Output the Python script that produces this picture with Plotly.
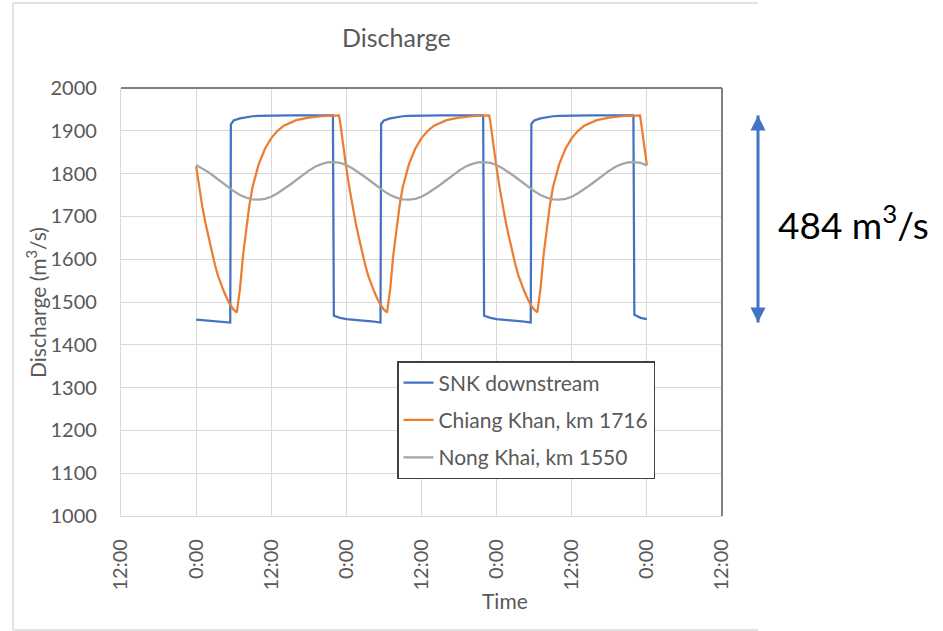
import plotly.graph_objects as go

# ---- data (hours from start of the run, discharge in m3/s) ----
snk_hours = [
    0, 1, 2, 3, 4, 5, 5.45,
    5.55, 6, 7, 8, 9, 10, 12, 15, 18, 21.85,
    22.0, 22.5, 23, 24, 25, 26, 27, 28, 29, 29.45,
    29.55, 30, 31, 32, 33, 34, 36, 39, 42, 45.85,
    46.0, 46.5, 47, 48, 49, 50, 51, 52, 53, 53.45,
    53.55, 54, 55, 56, 57, 58, 60, 63, 66, 69.85,
    70.0, 70.5, 71, 72,
]
snk_q = [
    1459, 1458, 1457, 1456, 1455, 1453, 1452,
    1915, 1924, 1929, 1932, 1934, 1935, 1936, 1936, 1936, 1936,
    1468, 1465, 1463, 1460, 1459, 1457, 1456, 1455, 1453, 1452,
    1916, 1924, 1929, 1932, 1934, 1935, 1936, 1936, 1936, 1936,
    1468, 1465, 1463, 1460, 1459, 1457, 1456, 1455, 1453, 1452,
    1916, 1924, 1929, 1932, 1934, 1935, 1936, 1936, 1936, 1936,
    1470, 1466, 1463, 1460,
]

chiang_khan_hours = [
    0, 0.5, 1, 1.5, 2, 2.5, 3, 3.5, 4, 4.5, 5, 5.5, 6, 6.5,
    7, 7.5, 8, 8.5, 9, 9.5, 10, 11, 12, 13, 14, 16, 18, 20, 22, 22.8,
    23.0, 23.5, 24, 24.5, 25, 25.5, 26, 26.5, 27, 27.5, 28, 28.5, 29, 29.5, 30, 30.5,
    31, 31.5, 32, 32.5, 33, 33.5, 34, 35, 36, 37, 38, 40, 42, 44, 46, 46.8,
    47.0, 47.5, 48, 48.5, 49, 49.5, 50, 50.5, 51, 51.5, 52, 52.5, 53, 53.5, 54, 54.5,
    55, 55.5, 56, 56.5, 57, 57.5, 58, 59, 60, 61, 62, 64, 66, 68, 70, 70.9,
    71.0, 71.5, 72,
]
chiang_khan_q = [
    1817, 1765, 1722, 1684, 1650, 1617, 1587, 1561, 1540, 1522, 1506, 1492, 1482, 1476,
    1530, 1610, 1668, 1725, 1768, 1798, 1822, 1858, 1883, 1900, 1912, 1925, 1931, 1934, 1936, 1936,
    1921, 1862, 1812, 1765, 1722, 1684, 1650, 1617, 1587, 1561, 1540, 1522, 1506, 1492, 1482, 1476,
    1530, 1610, 1668, 1725, 1768, 1798, 1822, 1858, 1883, 1900, 1912, 1925, 1931, 1934, 1936, 1936,
    1921, 1862, 1812, 1765, 1722, 1684, 1650, 1617, 1587, 1561, 1540, 1522, 1506, 1492, 1482, 1476,
    1530, 1610, 1668, 1725, 1768, 1798, 1822, 1858, 1883, 1900, 1912, 1925, 1931, 1934, 1936, 1936,
    1927, 1868, 1820,
]

nong_khai_hours = list(range(0, 73))
nong_khai_q = [
    1820, 1812, 1803, 1792, 1781, 1769, 1759, 1750, 1744, 1740, 1739, 1741,
    1746, 1754, 1763, 1774, 1785, 1797, 1807, 1816, 1822, 1826, 1827, 1825,
    1820, 1812, 1803, 1792, 1781, 1769, 1759, 1750, 1744, 1740, 1739, 1741,
    1746, 1754, 1763, 1774, 1785, 1797, 1807, 1816, 1822, 1826, 1827, 1825,
    1820, 1812, 1803, 1792, 1781, 1769, 1759, 1750, 1744, 1740, 1739, 1741,
    1746, 1754, 1763, 1774, 1785, 1797, 1807, 1816, 1822, 1826, 1827, 1825,
    1819,
]

tick_hours = [-12, 0, 12, 24, 36, 48, 60, 72, 84]
tick_labels = ["12:00", "0:00", "12:00", "0:00", "12:00", "0:00", "12:00", "0:00", "12:00"]

series_names = ["SNK downstream", "Chiang Khan, km 1716", "Nong Khai, km 1550"]
series_colors = ["#4472C4", "#ED7D31", "#A5A5A5"]

FONT = "Lato"
TEXT_GREY = "#595959"
GRID = "#D9D9D9"

W, H = 943, 631
ML, MR, MT, MB = 121, 221, 88, 115
PW, PH = W - ML - MR, H - MT - MB


def fx(px):
    """page pixel x -> paper fraction"""
    return (px - ML) / PW


def fy(py):
    """page pixel y -> paper fraction"""
    return (H - MB - py) / PH


fig = go.Figure()
for i, (xs, ys) in enumerate([(snk_hours, snk_q),
                              (chiang_khan_hours, chiang_khan_q),
                              (nong_khai_hours, nong_khai_q)]):
    fig.add_trace(go.Scatter(
        x=xs, y=ys, mode="lines", name=series_names[i],
        legendgroup=f"g{i}",
        line=dict(color=series_colors[i], width=2.25),
    ))

# swing range of the downstream release
q_high = max(snk_q)
q_low = min(snk_q)
swing = q_high - q_low

arrow_x = fx(758)
arrow_col = "#4472C4"
shapes = [
    # outer chart frame (top, left, bottom)
    dict(type="line", xref="paper", yref="paper", x0=fx(13), x1=fx(758), y0=fy(3), y1=fy(3),
         line=dict(color=GRID, width=1.5)),
    dict(type="line", xref="paper", yref="paper", x0=fx(13), x1=fx(13), y0=fy(3), y1=fy(630),
         line=dict(color=GRID, width=1.5)),
    dict(type="line", xref="paper", yref="paper", x0=fx(13), x1=fx(758), y0=fy(630), y1=fy(630),
         line=dict(color=GRID, width=1.5)),
    # plot-area edges on top and right
    dict(type="line", xref="paper", yref="paper", x0=0, x1=1, y0=1, y1=1,
         line=dict(color="#7F7F7F", width=2)),
    dict(type="line", xref="paper", yref="paper", x0=1, x1=1, y0=0, y1=1,
         line=dict(color="#7F7F7F", width=2)),
    # double-headed arrow spanning the release swing
    dict(type="line", xref="paper", yref="y", x0=arrow_x, x1=arrow_x, y0=q_low, y1=q_high,
         line=dict(color=arrow_col, width=3)),
    dict(type="path", xref="paper", yref="y", xsizemode="pixel", ysizemode="pixel",
         xanchor=arrow_x, yanchor=q_high, path="M -7.5,-15 L 7.5,-15 L 0,0 Z",
         fillcolor=arrow_col, line=dict(color=arrow_col, width=0)),
    dict(type="path", xref="paper", yref="y", xsizemode="pixel", ysizemode="pixel",
         xanchor=arrow_x, yanchor=q_low, path="M -7.5,15 L 7.5,15 L 0,0 Z",
         fillcolor=arrow_col, line=dict(color=arrow_col, width=0)),
]

annotations = [
    dict(text="Discharge", xref="paper", yref="paper", x=fx(396), y=fy(37),
         xanchor="center", yanchor="middle", showarrow=False,
         font=dict(family=FONT, size=25, color=TEXT_GREY)),
    dict(text="Discharge (m<sup>3</sup>/s)", xref="paper", yref="paper", x=fx(36), y=0.5,
         xanchor="center", yanchor="middle", textangle=-90, showarrow=False,
         font=dict(family=FONT, size=21, color=TEXT_GREY)),
    dict(text="Time", xref="paper", yref="paper", x=fx(505), y=fy(600),
         xanchor="center", yanchor="middle", showarrow=False,
         font=dict(family=FONT, size=21, color=TEXT_GREY)),
    dict(text=f"{swing} m<sup>3</sup>/s", xref="paper", yref="paper", x=fx(776), y=fy(222),
         xanchor="left", yanchor="middle", showarrow=False,
         font=dict(family=FONT, size=37, color="#000000")),
]

fig.update_layout(
    width=W, height=H,
    margin=dict(l=ML, r=MR, t=MT, b=MB, pad=0),
    paper_bgcolor="white", plot_bgcolor="white",
    font=dict(family=FONT, color=TEXT_GREY),
    showlegend=True,
    legend=dict(
        x=fx(397), y=fy(361), xanchor="left", yanchor="top",
        bgcolor="white", bordercolor="#404040", borderwidth=1.5,
        font=dict(family=FONT, size=21, color=TEXT_GREY),
        tracegroupgap=7, itemwidth=30, traceorder="grouped",
    ),
    xaxis=dict(
        range=[-12, 84], tickmode="array", tickvals=tick_hours, ticktext=tick_labels,
        tickangle=-90, tickfont=dict(family=FONT, size=20, color=TEXT_GREY),
        ticks="outside", ticklen=14, tickcolor="rgba(0,0,0,0)",
        showgrid=True, gridcolor=GRID, gridwidth=1.2,
        showline=True, linecolor=GRID, linewidth=1.2, zeroline=False,
    ),
    yaxis=dict(
        range=[1000, 2000], dtick=100, tick0=1000,
        tickfont=dict(family=FONT, size=20, color=TEXT_GREY),
        ticks="outside", ticklen=19, tickcolor="rgba(0,0,0,0)",
        showgrid=True, gridcolor=GRID, gridwidth=1.2,
        showline=True, linecolor=GRID, linewidth=1.2, zeroline=False,
    ),
    shapes=shapes,
    annotations=annotations,
)

fig.write_html("out.html")
